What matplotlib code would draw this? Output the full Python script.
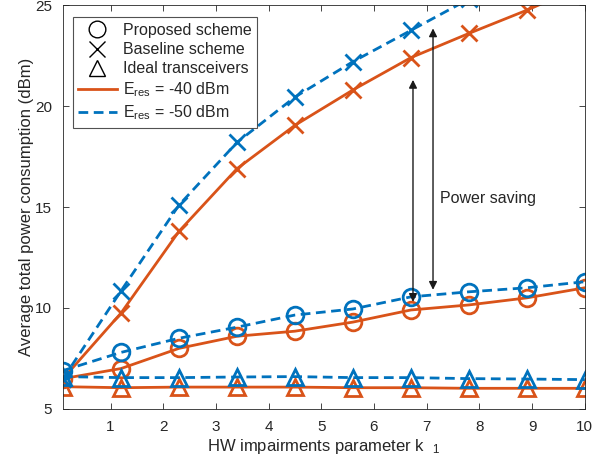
import matplotlib
matplotlib.use("Agg")
import matplotlib.pyplot as plt
from matplotlib.lines import Line2D

plt.rcParams['font.family'] = ['Liberation Sans', 'DejaVu Sans']
plt.rcParams['mathtext.fontset'] = 'custom'
plt.rcParams['mathtext.rm'] = 'Liberation Sans'
plt.rcParams['mathtext.it'] = 'Liberation Sans'

ORANGE = '#D95319'
BLUE = '#0072BD'
GREY = '#262626'

k1 = [0.1, 1.2, 2.3, 3.4, 4.5, 5.6, 6.7, 7.8, 8.9, 10.0]

# E_res = -40 dBm
prop_40 = [6.5, 7.0, 8.0, 8.6, 8.85, 9.3, 9.9, 10.15, 10.5, 11.0]
base_40 = [6.5, 9.75, 13.8, 16.9, 19.05, 20.8, 22.4, 23.6, 24.75, 26.0]
ideal_40 = [6.1, 6.05, 6.08, 6.08, 6.08, 6.05, 6.05, 6.02, 6.02, 6.02]

# E_res = -50 dBm
prop_50 = [6.9, 7.8, 8.5, 9.05, 9.65, 9.95, 10.55, 10.8, 11.0, 11.3]
base_50 = [6.5, 10.85, 15.1, 18.2, 20.45, 22.2, 23.75, 25.3, 26.5, 27.6]
ideal_50 = [6.6, 6.55, 6.55, 6.58, 6.6, 6.55, 6.55, 6.5, 6.48, 6.45]

fig = plt.figure(figsize=(6.01, 4.70), dpi=100)
ax = fig.add_axes([0.105, 0.130, 0.868, 0.859])

ms = 12
mew = 2
lw = 2
dash = (3.5, 2.0)

ax.plot(k1, base_40, '-', color=ORANGE, lw=lw, marker='x', ms=ms, mew=mew)
ax.plot(k1, prop_40, '-', color=ORANGE, lw=lw, marker='o', ms=ms, mew=mew, mfc='none')
ax.plot(k1, ideal_40, '-', color=ORANGE, lw=lw, marker='^', ms=ms, mew=mew, mfc='none')
ax.plot(k1, base_50, '--', dashes=dash, color=BLUE, lw=lw, marker='x', ms=ms, mew=mew)
ax.plot(k1, prop_50, '--', dashes=dash, color=BLUE, lw=lw, marker='o', ms=ms, mew=mew, mfc='none')
ax.plot(k1, ideal_50, '--', dashes=dash, color=BLUE, lw=lw, marker='^', ms=ms, mew=mew, mfc='none')

# power saving arrows
arrow_kw = dict(arrowstyle='<|-|>', color='#1a1a1a', lw=1.0, mutation_scale=12,
                shrinkA=0, shrinkB=0)
ax.annotate('', xy=(6.74, 10.3), xytext=(6.74, 21.3), arrowprops=arrow_kw)
ax.annotate('', xy=(7.12, 10.9), xytext=(7.12, 23.85), arrowprops=arrow_kw)
ax.text(7.25, 15.4, 'Power saving', fontsize=11.5, color=GREY, va='center', ha='left')

ax.set_xlim(0.1, 10)
ax.set_ylim(5, 25)
ax.set_xticks(range(1, 11))
ax.set_yticks([5, 10, 15, 20, 25])
ax.tick_params(direction='in', top=True, right=True, labelsize=11,
               colors=GREY, length=4, width=0.6, pad=8)
for sp in ax.spines.values():
    sp.set_color(GREY)
    sp.set_linewidth(0.6)

ax.set_xlabel(r'HW impairments parameter k  $_{\mathregular{1}}$', fontsize=12, color=GREY, labelpad=2)
ax.set_ylabel('Average total power consumption (dBm)', fontsize=12, color=GREY, labelpad=1)

handles = [
    Line2D([], [], ls='none', marker='o', ms=ms, mfc='none', mec='k', mew=1),
    Line2D([], [], ls='none', marker='x', ms=ms, mec='k', mew=1),
    Line2D([], [], ls='none', marker='^', ms=ms, mfc='none', mec='k', mew=1),
    Line2D([], [], ls='-', color=ORANGE, lw=lw),
    Line2D([], [], ls='--', dashes=dash, color=BLUE, lw=lw),
]
labels = ['Proposed scheme', 'Baseline scheme', 'Ideal transceivers',
          r'E$_{\mathregular{res}}$ = -40 dBm', r'E$_{\mathregular{res}}$ = -50 dBm']
leg = ax.legend(handles, labels, loc='upper left', fontsize=11.5, frameon=True,
                fancybox=False, edgecolor=GREY, handlelength=2.4, handletextpad=0.4,
                labelspacing=0.27, borderpad=0.35, bbox_to_anchor=(0.003, 0.99))
leg.get_frame().set_linewidth(0.8)
for t in leg.get_texts():
    t.set_color(GREY)

fig.savefig('out.png', dpi=100)
